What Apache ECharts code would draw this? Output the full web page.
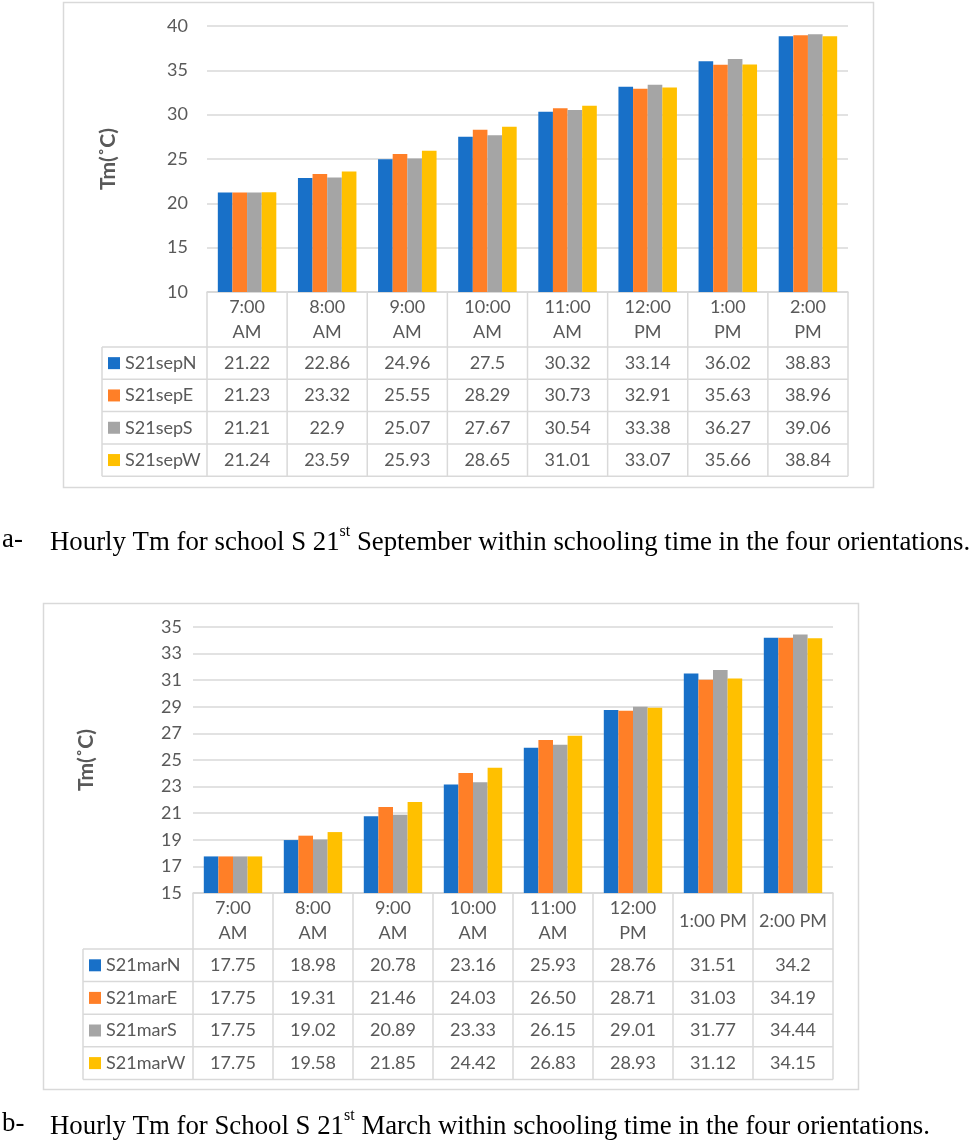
<!DOCTYPE html>
<html>
<head>
<meta charset="utf-8">
<script src="https://cdn.jsdelivr.net/npm/echarts@6/dist/echarts.min.js"></script>
<style>
html,body{margin:0;padding:0;background:#fff;}
#c{width:976px;height:1144px;}
</style>
</head>
<body>
<div id="c"></div>
<script>
// ---------- DATA ----------
const categories = ["7:00 AM","8:00 AM","9:00 AM","10:00 AM","11:00 AM","12:00 PM","1:00 PM","2:00 PM"];
const tickLabelsA = ["7:00\nAM","8:00\nAM","9:00\nAM","10:00\nAM","11:00\nAM","12:00\nPM","1:00\nPM","2:00\nPM"];
const tickLabelsB = ["7:00\nAM","8:00\nAM","9:00\nAM","10:00\nAM","11:00\nAM","12:00\nPM","1:00 PM","2:00 PM"];
const yTicksA = {min:10, max:40, interval:5};
const yTicksB = {min:15, max:35, interval:2};

const namesA = ["S21sepN","S21sepE","S21sepS","S21sepW"];
const S21sepN = ["21.22","22.86","24.96","27.5","30.32","33.14","36.02","38.83"];
const S21sepE = ["21.23","23.32","25.55","28.29","30.73","32.91","35.63","38.96"];
const S21sepS = ["21.21","22.9","25.07","27.67","30.54","33.38","36.27","39.06"];
const S21sepW = ["21.24","23.59","25.93","28.65","31.01","33.07","35.66","38.84"];

const namesB = ["S21marN","S21marE","S21marS","S21marW"];
const S21marN = ["17.75","18.98","20.78","23.16","25.93","28.76","31.51","34.2"];
const S21marE = ["17.75","19.31","21.46","24.03","26.50","28.71","31.03","34.19"];
const S21marS = ["17.75","19.02","20.89","23.33","26.15","29.01","31.77","34.44"];
const S21marW = ["17.75","19.58","21.85","24.42","26.83","28.93","31.12","34.15"];

const axisTitle = "Tm(˚C)";
const captionA = {label:"a-", pre:"Hourly Tm for school S 21", sup:"st", post:" September within schooling time in the four orientations."};
const captionB = {label:"b-", pre:"Hourly Tm for School S 21", sup:"st", post:" March within schooling time in the four orientations."};

// ---------- STYLE / LAYOUT ----------
const colors = ["#1870C8","#FF7F27","#A5A5A5","#FFC000"];
const txt = "#595959";
const line = "#D9D9D9";
const FONT = "Lato";

const panels = [
  {box:[63,2,873,487], gridL:207, gridT:26, gridW:641, gridH:266, legendL:102, headerH:55, rowH:32.3,
   yNameGap:88, yMargin:19, ticks:tickLabelsA, yt:yTicksA, names:namesA, data:[S21sepN,S21sepE,S21sepS,S21sepW],
   caption:captionA, capY:540},
  {box:[43,603,858,1089], gridL:193, gridT:627, gridW:640, gridH:266, legendL:83, headerH:56, rowH:32.6,
   yNameGap:96, yMargin:11, ticks:tickLabelsB, yt:yTicksB, names:namesB, data:[S21marN,S21marE,S21marS,S21marW],
   caption:captionB, capY:1124}
];

const grids=[], xAxes=[], yAxes=[], series=[], graphics=[];

panels.forEach((p, pi) => {
  // outer box
  graphics.push({type:'rect', shape:{x:p.box[0]+0.5, y:p.box[1]+0.5, width:p.box[2]-p.box[0], height:p.box[3]-p.box[1]},
    style:{fill:null, stroke:line, lineWidth:1.5}, z:0});
  grids.push({left:p.gridL, top:p.gridT, width:p.gridW, height:p.gridH});
  xAxes.push({type:'category', gridIndex:pi, data:categories,
    axisLine:{show:true, lineStyle:{color:line, width:1.5}}, axisTick:{show:false},
    axisLabel:{interval:0, color:txt, fontFamily:FONT, fontSize:18, lineHeight:25, verticalAlign:'middle', margin:p.headerH/2,
      formatter:(v, i) => p.ticks[i]}});
  yAxes.push({type:'value', gridIndex:pi, min:p.yt.min, max:p.yt.max, interval:p.yt.interval,
    axisLine:{show:false}, axisTick:{show:false},
    axisLabel:{color:txt, fontFamily:FONT, fontSize:18, margin:p.yMargin},
    splitLine:{lineStyle:{color:line, width:1.5}},
    name:axisTitle, nameLocation:'middle', nameRotate:90, nameGap:p.yNameGap,
    nameTextStyle:{color:txt, fontFamily:FONT, fontSize:21, fontWeight:'bold'}});
  p.names.forEach((n, si) => {
    series.push({type:'bar', name:n, xAxisIndex:pi, yAxisIndex:pi, data:p.data[si].map(Number),
      itemStyle:{color:colors[si]}, barGap:'0%', barCategoryGap:'27%'});
  });
  // table
  const colW = p.gridW/8;
  const hTop = p.gridT + p.gridH;
  const hBot = hTop + p.headerH;
  const tBot = hBot + 4*p.rowH;
  const right = p.gridL + p.gridW;
  const ls = {stroke:line, lineWidth:1.5};
  for (let i=0;i<=8;i++){
    const x = p.gridL + i*colW;
    graphics.push({type:'line', shape:{x1:x,y1:hTop,x2:x,y2:tBot}, style:ls});
  }
  graphics.push({type:'line', shape:{x1:p.legendL,y1:hBot,x2:p.legendL,y2:tBot}, style:ls});
  graphics.push({type:'line', shape:{x1:p.gridL,y1:hTop,x2:right,y2:hTop}, style:ls});
  for (let r=0;r<=4;r++){
    const y = hBot + r*p.rowH;
    graphics.push({type:'line', shape:{x1:p.legendL,y1:y,x2:right,y2:y}, style:ls});
  }
  p.names.forEach((n, si) => {
    const cy = hBot + (si+0.5)*p.rowH;
    graphics.push({type:'rect', shape:{x:p.legendL+6, y:cy-6, width:12, height:12}, style:{fill:colors[si]}});
    graphics.push({type:'text', x:p.legendL+23, y:cy, style:{text:n, fill:txt, font:`18px ${FONT}`, textAlign:'left', textVerticalAlign:'middle'}});
    p.data[si].forEach((v, ci) => {
      graphics.push({type:'text', x:p.gridL+(ci+0.5)*colW, y:cy, style:{text:v, fill:txt, font:`18px ${FONT}`, textAlign:'center', textVerticalAlign:'middle'}});
    });
  });
  // caption
  graphics.push({type:'text', x:2, y:p.capY, style:{text:p.caption.label, fill:'#000', font:'26.8px "Liberation Serif"', textVerticalAlign:'middle'}});
  graphics.push({type:'text', x:50, y:p.capY, style:{
    text:`{n|${p.caption.pre}}{s|${p.caption.sup}}{n|${p.caption.post}}`,
    textVerticalAlign:'middle',
    rich:{n:{fontFamily:'Liberation Serif', fontSize:26.8, color:'#000', lineHeight:32, verticalAlign:'bottom'},
          s:{fontFamily:'Liberation Serif', fontSize:16, color:'#000', lineHeight:32, verticalAlign:'top'}}}});
});

const chart = echarts.init(document.getElementById('c'));
chart.setOption({
  backgroundColor:'#fff',
  animation:false,
  grid:grids, xAxis:xAxes, yAxis:yAxes, series:series, graphic:graphics
});
</script>
</body>
</html>
